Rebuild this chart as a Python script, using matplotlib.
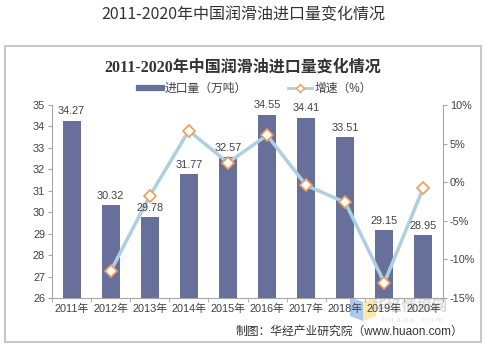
import matplotlib.pyplot as plt
from matplotlib.patches import Rectangle, Polygon
from matplotlib.lines import Line2D

plt.rcParams['font.family'] = ['Liberation Sans', 'Noto Sans CJK SC']

years = ["2011年", "2012年", "2013年", "2014年", "2015年",
         "2016年", "2017年", "2018年", "2019年", "2020年"]
imports = [34.27, 30.32, 29.78, 31.77, 32.57, 34.55, 34.41, 33.51, 29.15, 28.95]
growth = [None, -11.53, -1.78, 6.68, 2.52, 6.08, -0.41, -2.62, -13.01, -0.69]
title = "2011-2020年中国润滑油进口量变化情况"

bar_color = "#67709a"
line_color = "#aecfe2"
marker_edge = "#f29b58"
axis_color = "#a6a6a6"
text_color = "#404040"

W, H = 486, 352
fig = plt.figure(figsize=(W / 100, H / 100), dpi=100)


def fx(px):
    return px / W


def fy(py):
    return 1 - py / H


# outer title and frame
fig.text(0.5, fy(15), title, ha="center", va="center", fontsize=11.5,
         color="#333333", family=['Noto Sans CJK SC', 'DejaVu Sans'])
fig.patches.append(Rectangle((fx(5), fy(342)), 476 / W, 296 / H,
                             transform=fig.transFigure, fill=False,
                             edgecolor="#c8c8c8", linewidth=1.5))
fig.text(0.5, fy(68), title, ha="center", va="center", fontsize=11.5,
         fontweight="bold", color="#333333",
         family=['Liberation Serif', 'Noto Sans CJK SC'])

# watermark logo, behind the axes
fig.patches.append(Polygon([(fx(350), fy(297)), (fx(363), fy(302)),
                            (fx(363), fy(321)), (fx(350), fy(316))],
                           closed=True, transform=fig.transFigure,
                           facecolor="#a9c9f3", edgecolor="none", zorder=-1))
fig.patches.append(Polygon([(fx(363), fy(302)), (fx(376), fy(297)),
                            (fx(376), fy(316)), (fx(363), fy(321))],
                           closed=True, transform=fig.transFigure,
                           facecolor="#fbeaa8", edgecolor="none", zorder=-1))

ax = fig.add_axes([fx(52), fy(298), 391 / W, 193 / H])
ax.patch.set_alpha(0)
x = list(range(len(years)))
ax.bar(x, imports, width=0.46, color=bar_color, zorder=2)

ax.set_ylim(26, 35)
ax.set_yticks(range(26, 36))
ax.set_xlim(-0.5, len(years) - 0.5)
ax.set_xticks(x)
ax.set_xticklabels(years)
ax.set_xticks([i - 0.5 for i in range(len(years) + 1)], minor=True)
ax.tick_params(axis="x", which="major", length=0, pad=4,
               labelsize=7.8, labelcolor=text_color)
ax.tick_params(axis="x", which="minor", length=3, color=axis_color)
ax.tick_params(axis="y", length=3, color=axis_color, labelsize=7.8,
               labelcolor=text_color, pad=2)
for s in ["top", "right"]:
    ax.spines[s].set_visible(False)
for s in ["left", "bottom"]:
    ax.spines[s].set_color(axis_color)

ax2 = ax.twinx()
gx = [xi for xi, g in zip(x, growth) if g is not None]
gy = [g for g in growth if g is not None]
ax2.plot(gx, gy, color=line_color, linewidth=2.5, marker="D", markersize=6,
         markerfacecolor="white", markeredgecolor=marker_edge,
         markeredgewidth=1.2, zorder=3)
ax2.set_ylim(-15, 10)
ax2.set_yticks(range(-15, 11, 5))
ax2.set_yticklabels([f"{t}%" for t in range(-15, 11, 5)])
ax2.tick_params(axis="y", length=3, color=axis_color, labelsize=7.8,
                labelcolor=text_color, pad=2)
for s in ["top", "left", "bottom"]:
    ax2.spines[s].set_visible(False)
ax2.spines["right"].set_color(axis_color)

# bar value labels, drawn above the line
for xi, v in zip(x, imports):
    ax2.annotate(f"{v:.2f}", (xi, v), xycoords=ax.transData, xytext=(0, 3),
                 textcoords="offset points", ha="center", va="bottom",
                 fontsize=7.8, color=text_color, zorder=5)

handles = [Line2D([0], [0], color=bar_color, linewidth=4.5),
           Line2D([0], [0], color=line_color, linewidth=2, marker="D",
                  markersize=4.5, markerfacecolor="white",
                  markeredgecolor=marker_edge)]
fig.legend(handles, ["进口量（万吨）", "增速（%）"], loc="center",
           bbox_to_anchor=(fx(255), fy(89)), ncol=2, frameon=False,
           fontsize=8.5, handlelength=2.0, columnspacing=3.5,
           handletextpad=0.2, labelcolor=text_color)

# watermark text
fig.text(fx(410), fy(306), "华经情报网", ha="center", va="center",
         fontsize=11, fontweight="bold", color="#dcdcdc", zorder=-1,
         family=['Noto Sans CJK SC', 'DejaVu Sans'])
fig.text(fx(412), fy(320), "h u a o n . c o m", ha="center",
         va="center", fontsize=6, color="#e2e2e2", zorder=-1)

fig.text(fx(463), fy(332), "制图：华经产业研究院（www.huaon.com）",
         ha="right", va="center", fontsize=8.5, color="#333333")

fig.savefig("out.png", dpi=100)
